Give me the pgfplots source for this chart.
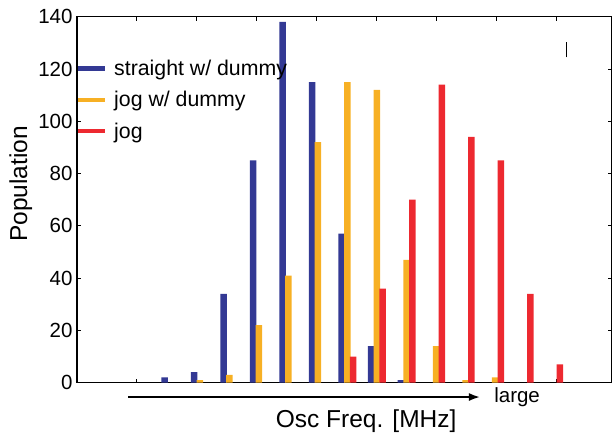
\documentclass[border=0pt]{standalone}
\usepackage{fontspec}
\setmainfont{Liberation Sans}
\usepackage{pgfplots}
\pgfplotsset{compat=1.18}
\usetikzlibrary{arrows.meta}
\definecolor{cblue}{RGB}{51,57,148}
\definecolor{corange}{RGB}{247,176,36}
\definecolor{cred}{RGB}{237,41,48}
\begin{document}
\begin{tikzpicture}
\useasboundingbox (-77bp,-50.3bp) rectangle (535bp,382.7bp);
\begin{axis}[
  scale only axis, width=534.5bp, height=366bp,
  xmin=-3.169, xmax=14.949, ymin=0, ymax=140,
  ytick={0,20,...,140},
  xtick={-1.169,0.864,2.898,4.932,6.966,9.0,11.034,13.068},
  xticklabels={},
  tick align=inside, major tick length=4bp,
  tick style={black, line width=0.8bp},
  axis line style={line width=1.3bp},
  ticklabel style={font=\fontsize{20.5bp}{24bp}\selectfont},
  /pgf/number format/assume math mode=true,
  yticklabel style={xshift=-1bp},
  clip=false,
  xlabel={Osc Freq. [MHz]},
  xlabel style={font=\fontsize{24.5bp}{28bp}\selectfont, at={(axis description cs:0.541,-0.105)}, anchor=center},
  ylabel={Population},
  ylabel style={font=\fontsize{24.5bp}{28bp}\selectfont, at={(axis description cs:-0.105,0.543)}, anchor=center, rotate=0},
  legend style={at={(0,1)}, anchor=north west, draw=none, fill=none,
    xshift=-4bp, yshift=-40bp, row sep=12.5bp,
    font=\fontsize{21.3bp}{24bp}\selectfont,
    nodes={inner xsep=6.5bp, inner ysep=1bp}},
  legend cell align=left,
]
\addplot[ybar, bar width=6.5bp, bar shift=-5.75bp, fill=cblue, draw=none, forget plot]
  coordinates {(0,2) (1,4) (2,34) (3,85) (4,138) (5,115) (6,57) (7,14) (8,1)};
\addplot[ybar, bar width=6.5bp, bar shift=0bp, fill=corange, draw=none, forget plot]
  coordinates {(1,1) (2,3) (3,22) (4,41) (5,92) (6,115) (7,112) (8,47) (9,14) (10,1) (11,2)};
\addplot[ybar, bar width=6.5bp, bar shift=5.75bp, fill=cred, draw=none, forget plot]
  coordinates {(6,10) (7,36) (8,70) (9,114) (10,94) (11,85) (12,34) (13,7)};
\addlegendimage{legend image code/.code={\draw[cblue, line width=4.5bp] (0bp,0bp) -- (27bp,0bp);}}
\addlegendentry{straight w/ dummy}
\addlegendimage{legend image code/.code={\draw[corange, line width=4.5bp] (0bp,0bp) -- (27bp,0bp);}}
\addlegendentry{jog w/ dummy}
\addlegendimage{legend image code/.code={\draw[cred, line width=4.5bp] (0bp,0bp) -- (27bp,0bp);}}
\addlegendentry{jog}
\draw[line width=1.8bp, -{Latex[length=11bp,width=8bp]}] (axis cs:-1.44,-5.48) -- (axis cs:10.49,-5.48);
\node[anchor=base west, inner sep=0pt, font=\fontsize{20.5bp}{24bp}\selectfont] at (axis cs:10.97,-7.4) {large};
\draw[line width=1.2bp] (axis cs:13.43,124.4) -- (axis cs:13.43,130.5);
\end{axis}
\end{tikzpicture}
\end{document}
